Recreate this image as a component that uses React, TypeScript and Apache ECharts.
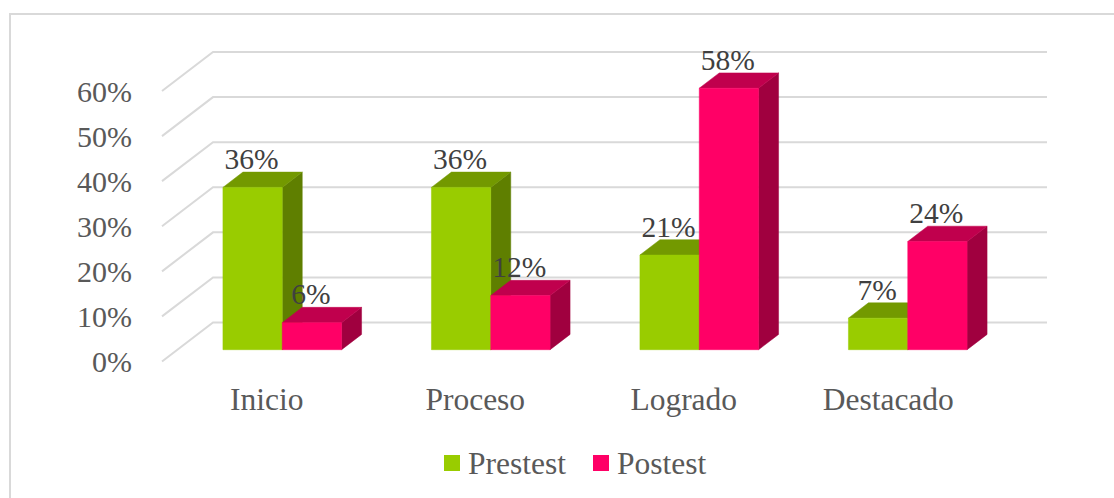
import React, { useEffect, useRef } from "react";
import * as echarts from "echarts";

const categories = ["Inicio", "Proceso", "Logrado", "Destacado"];
const prestest = [36, 36, 21, 7];
const postest = [6, 12, 58, 24];
const yTicks = [0, 10, 20, 30, 40, 50, 60];

const SERIF = "'Liberation Serif', 'Times New Roman', serif";
const DX = 20;
const DY = -15.3;
const LIFT = -11.8;

function barSeries(name: string, values: number[], shift: number, front: string, top: string, side: string) {
  return {
    type: "custom",
    name,
    itemStyle: { color: front },
    encode: { x: 0, y: 1 },
    data: values.map((v, i) => [i, v]),
    z: 5,
    renderItem: (_p: any, api: any) => {
      const band = api.size([1, 0])[0];
      const w = band * 0.2845;
      const base = api.coord([api.value(0), 0]);
      const head = api.coord([api.value(0), api.value(1)]);
      const x0 = base[0] + shift * w;
      const x1 = x0 + w;
      const yb = base[1] + LIFT;
      const yt = head[1] + LIFT;
      const poly = (points: number[][], fill: string) => ({
        type: "polygon",
        shape: { points },
        style: { fill, stroke: fill, lineWidth: 0.5 },
      });
      return {
        type: "group",
        children: [
          poly([[x1, yb], [x1 + DX, yb + DY], [x1 + DX, yt + DY], [x1, yt]], side),
          poly([[x0, yt], [x0 + DX, yt + DY], [x1 + DX, yt + DY], [x1, yt]], top),
          poly([[x0, yb], [x1, yb], [x1, yt], [x0, yt]], front),
          {
            type: "text",
            z2: 10,
            style: {
              x: (x0 + x1) / 2 - 1,
              y: yt + DY - 13,
              text: api.value(1) + "%",
              fill: "#404040",
              font: `29.5px ${SERIF}`,
              align: "center",
              verticalAlign: "middle",
            },
          },
        ],
      };
    },
  };
}

const App = () => {
  const ref = useRef<HTMLDivElement>(null);
  useEffect(() => {
    document.body.style.margin = "0";
    const chart = echarts.init(ref.current!, undefined, { renderer: "svg" });
    chart.setOption({
      animation: false,
      backgroundColor: "#ffffff",
      textStyle: { fontFamily: SERIF },
      graphic: [
        {
          type: "rect",
          silent: true,
          shape: { x: 10, y: 14, width: 1200, height: 600 },
          style: { fill: "transparent", stroke: "#D9D9D9", lineWidth: 2 },
        },
      ],
      grid: { left: 178, top: 91, width: 834, height: 270.5 },
      xAxis: {
        type: "category",
        data: categories,
        axisLine: { show: false },
        axisTick: { show: false },
        splitLine: { show: false },
        axisLabel: {
          margin: 21,
          interval: 0,
          color: "#595959",
          fontFamily: SERIF,
          fontSize: 31.5,
          lineHeight: 34,
          padding: [0, 31, 0, 0],
          formatter: (v: string) => (v === "Destacado" ? `{d|${v}}` : v),
          rich: { d: { color: "#595959", fontFamily: SERIF, fontSize: 31.5, lineHeight: 34, padding: [0, 8, 0, 0] } },
        },
      },
      yAxis: {
        type: "value",
        min: 0,
        max: 60,
        interval: 10,
        axisLine: { show: false },
        axisTick: { show: false },
        splitLine: { show: false },
        axisLabel: {
          margin: 46,
          color: "#595959",
          fontFamily: SERIF,
          fontSize: 30,
          formatter: "{value}%",
        },
      },
      legend: {
        data: [
          { name: "Prestest", icon: "rect" },
          { name: "Postest", icon: "rect" },
        ],
        left: 439,
        top: 442,
        itemWidth: 16,
        itemHeight: 16,
        itemGap: 27,
        selectedMode: false,
        textStyle: { color: "#595959", fontFamily: SERIF, fontSize: 31.5, padding: [0, 0, 0, 3] },
      },
      series: [
        {
          type: "custom",
          name: "grid",
          silent: true,
          z: 1,
          encode: { x: 0, y: 1 },
          data: yTicks.map((t) => [0, t]),
          renderItem: (p: any, api: any) => {
            const y = api.coord([0, api.value(1)])[1];
            const cs = p.coordSys;
            return {
              type: "polyline",
              shape: {
                points: [
                  [cs.x - 16, y],
                  [cs.x + 35, y - 39],
                  [cs.x + 869, y - 39],
                ],
              },
              style: { fill: "none", stroke: "#D9D9D9", lineWidth: 2 },
            };
          },
        },
        barSeries("Prestest", prestest, -1, "#99CC00", "#739900", "#5F7F00"),
        barSeries("Postest", postest, 0, "#FF0066", "#C0004D", "#A0003F"),
      ],
    });
    return () => chart.dispose();
  }, []);
  return <div ref={ref} style={{ width: 1114, height: 498 }} />;
};

export default App;
